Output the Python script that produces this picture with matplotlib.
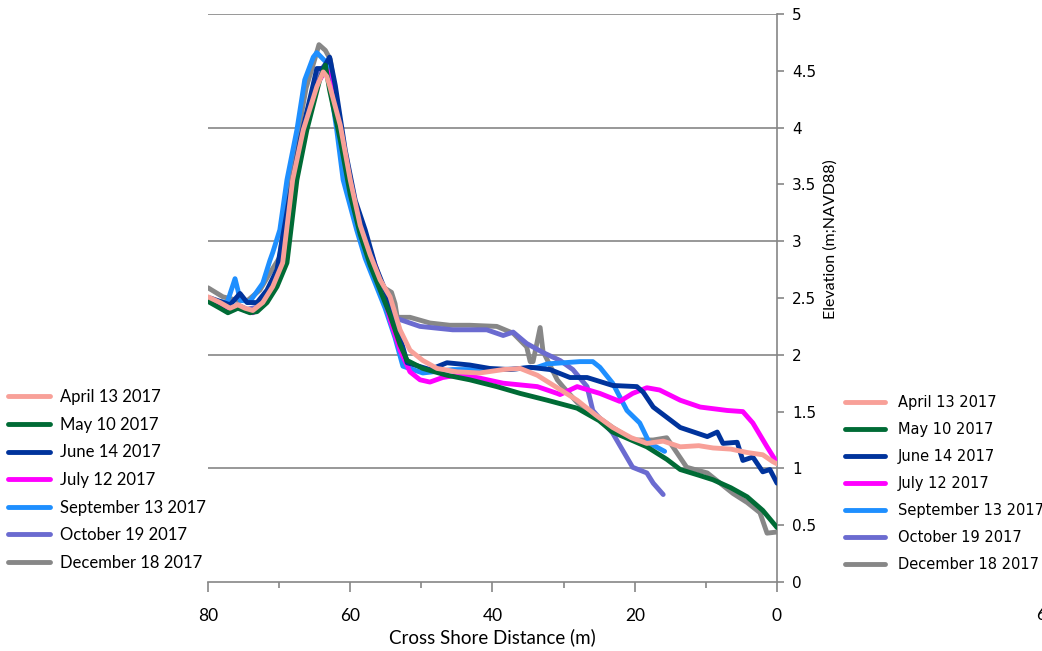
import matplotlib
matplotlib.use("Agg")
import matplotlib.pyplot as plt
from matplotlib.ticker import MultipleLocator, FuncFormatter

# survey dates and line colours
labels = ["April 13 2017", "May 10 2017", "June 14 2017", "July 12 2017",
          "September 13 2017", "October 19 2017", "December 18 2017"]
colors = ["#F8A098", "#006B35", "#00339C", "#FF00FF",
          "#1E8FFF", "#6B6BD0", "#878787"]

# cross shore distance (m) / elevation (m NAVD88) for each survey
apr_x = [80.0, 78.3, 76.9, 75.8, 74.8, 73.7, 72.3, 70.9, 69.5, 68.1, 66.6, 64.7, 63.8, 63.3, 62.9,
         61.4, 60.0, 58.6, 57.2, 55.8, 54.4, 53.0, 51.6, 49.8, 47.8, 45.0, 41.8, 38.5, 36.1, 33.7,
         30.9, 28.1, 25.5, 23.1, 20.5, 18.3, 16.0, 13.6, 11.0, 9.0, 6.5, 4.2, 2.0, 0.6, 0.0]
apr_y = [2.51, 2.46, 2.41, 2.44, 2.41, 2.39, 2.46, 2.60, 2.81, 3.54, 3.98, 4.36, 4.49, 4.45, 4.37,
         4.02, 3.54, 3.14, 2.88, 2.66, 2.51, 2.22, 2.04, 1.95, 1.88, 1.85, 1.84, 1.87, 1.88, 1.82,
         1.71, 1.60, 1.47, 1.36, 1.27, 1.22, 1.24, 1.19, 1.20, 1.18, 1.17, 1.14, 1.12, 1.06, 1.04]

may_x = [80.0, 78.3, 77.2, 75.8, 74.1, 73.1, 71.7, 70.3, 68.9, 67.5, 66.1, 64.3, 63.5, 62.9, 61.4,
         60.0, 58.6, 57.2, 55.8, 54.4, 53.0, 52.0, 49.8, 46.4, 43.2, 39.4, 36.1, 32.3, 28.1, 25.0,
         23.1, 20.5, 18.3, 15.5, 13.6, 11.0, 9.0, 6.5, 4.2, 2.0, 0.0]
may_y = [2.47, 2.41, 2.37, 2.41, 2.37, 2.38, 2.46, 2.60, 2.81, 3.54, 3.98, 4.42, 4.55, 4.33, 3.89,
         3.41, 3.06, 2.79, 2.57, 2.35, 2.09, 1.95, 1.88, 1.82, 1.78, 1.72, 1.66, 1.60, 1.53, 1.42,
         1.32, 1.25, 1.19, 1.08, 0.99, 0.94, 0.90, 0.83, 0.75, 0.63, 0.48]

jun_x = [79.7, 76.9, 75.5, 74.5, 73.1, 71.7, 70.3, 68.5, 67.0, 65.5, 64.7, 63.8, 62.9, 62.1, 60.7,
         59.3, 57.9, 56.5, 55.1, 53.7, 52.3, 52.0, 48.8, 46.4, 43.2, 40.4, 37.5, 34.7, 31.9, 29.1,
         26.7, 23.1, 19.7, 18.8, 17.4, 13.6, 9.8, 8.4, 7.6, 5.6, 4.8, 3.4, 2.0, 1.0, 0.0]
jun_y = [2.50, 2.44, 2.54, 2.46, 2.46, 2.57, 2.75, 3.40, 3.90, 4.30, 4.52, 4.52, 4.62, 4.37, 3.80,
         3.36, 3.10, 2.79, 2.57, 2.31, 2.00, 1.93, 1.87, 1.93, 1.91, 1.88, 1.87, 1.89, 1.87, 1.80,
         1.80, 1.73, 1.72, 1.67, 1.54, 1.36, 1.28, 1.32, 1.22, 1.23, 1.07, 1.10, 0.97, 0.99, 0.87]

jul_x = [80.0, 78.3, 76.9, 75.8, 74.8, 73.7, 72.3, 70.9, 69.5, 68.1, 66.6, 65.0, 63.4, 62.5, 61.4,
         60.0, 58.6, 57.2, 55.8, 54.4, 53.0, 51.6, 50.2, 48.8, 47.0, 45.0, 42.2, 38.5, 33.7, 30.9,
         30.5, 28.1, 24.9, 22.1, 20.3, 18.3, 16.5, 13.6, 10.8, 7.0, 4.8, 3.4, 1.4, 0.0]
jul_y = [2.48, 2.43, 2.39, 2.42, 2.39, 2.37, 2.44, 2.62, 2.85, 3.45, 3.95, 4.35, 4.51, 4.45, 3.98,
         3.50, 3.14, 2.92, 2.66, 2.31, 2.04, 1.85, 1.78, 1.76, 1.80, 1.82, 1.80, 1.75, 1.72, 1.66,
         1.65, 1.72, 1.66, 1.59, 1.66, 1.71, 1.69, 1.60, 1.54, 1.51, 1.50, 1.40, 1.19, 1.05]

sep_x = [79.7, 77.3, 76.2, 75.8, 75.5, 74.1, 72.3, 71.3, 70.9, 69.9, 68.9, 67.5, 66.4, 65.2, 64.7,
         63.3, 61.9, 61.0, 59.1, 57.9, 56.5, 55.1, 53.7, 52.6, 49.8, 45.6, 38.5, 33.7, 32.3, 27.7,
         25.9, 24.9, 23.1, 21.1, 19.3, 17.9, 15.8]
sep_y = [2.48, 2.46, 2.67, 2.57, 2.48, 2.47, 2.63, 2.83, 2.90, 3.10, 3.54, 3.98, 4.42, 4.62, 4.66,
         4.57, 3.98, 3.54, 3.10, 2.85, 2.63, 2.41, 2.15, 1.90, 1.84, 1.87, 1.87, 1.89, 1.92, 1.94,
         1.94, 1.89, 1.75, 1.51, 1.40, 1.22, 1.15]

oct_x = [80.0, 78.3, 76.9, 75.8, 74.5, 73.1, 71.7, 70.3, 69.0, 67.5, 66.0, 64.5, 63.6, 62.8, 61.7,
         60.5, 59.0, 57.5, 56.0, 54.5, 53.5, 53.0, 50.2, 45.6, 40.8, 38.5, 37.1, 35.2, 32.9, 30.5,
         28.7, 26.7, 25.9, 23.1, 20.3, 18.3, 17.4, 16.0]
oct_y = [2.50, 2.43, 2.40, 2.44, 2.40, 2.42, 2.52, 2.72, 3.05, 3.70, 4.15, 4.48, 4.55, 4.40, 3.95,
         3.50, 3.15, 2.92, 2.68, 2.50, 2.32, 2.31, 2.25, 2.22, 2.22, 2.17, 2.20, 2.10, 2.02, 1.95,
         1.87, 1.72, 1.51, 1.31, 1.01, 0.96, 0.87, 0.77]

dec_x = [80.0, 77.9, 75.9, 74.4, 72.7, 71.3, 69.9, 68.9, 67.5, 66.2, 65.0, 64.4, 63.5, 62.8, 62.0,
         61.0, 59.5, 58.0, 56.5, 55.5, 54.2, 53.7, 53.4, 51.6, 48.8, 46.0, 43.2, 39.4, 37.1, 35.2,
         34.7, 34.3, 33.3, 32.9, 30.9, 30.1, 28.1, 26.7, 23.1, 20.3, 17.4, 15.5, 12.7, 9.8, 8.0,
         6.2, 4.2, 2.4, 1.4, 0.0]
dec_y = [2.59, 2.51, 2.48, 2.48, 2.57, 2.72, 2.86, 3.40, 3.90, 4.35, 4.60, 4.73, 4.68, 4.60, 4.25,
         3.65, 3.25, 2.95, 2.75, 2.60, 2.55, 2.45, 2.33, 2.33, 2.28, 2.26, 2.26, 2.25, 2.19, 2.07,
         1.94, 1.94, 2.24, 2.03, 1.78, 1.72, 1.58, 1.52, 1.36, 1.25, 1.25, 1.27, 1.01, 0.96, 0.87,
         0.78, 0.70, 0.61, 0.43, 0.44]

series = [(apr_x, apr_y), (may_x, may_y), (jun_x, jun_y), (jul_x, jul_y),
          (sep_x, sep_y), (oct_x, oct_y), (dec_x, dec_y)]

fig = plt.figure(figsize=(10.42, 6.51), dpi=100)
ax = fig.add_axes([208 / 1042, 1 - 582 / 651, (777 - 208) / 1042, (582 - 14) / 651])

lines = []
for (xs, ys), lab, col in zip(series, labels, colors):
    ln, = ax.plot(xs, ys, color=col, lw=3.5, label=lab, solid_capstyle="round",
                  solid_joinstyle="round")
    lines.append(ln)
# first survey sits on top
for i, ln in enumerate(lines):
    ln.set_zorder(10 - i)

ax.set_xlim(80, 0)
ax.set_ylim(0, 5)
ax.xaxis.set_major_locator(MultipleLocator(20))
ax.xaxis.set_minor_locator(MultipleLocator(10))
ax.yaxis.set_major_locator(MultipleLocator(0.5))
ax.yaxis.set_major_formatter(FuncFormatter(lambda v, p: f"{v:g}"))
ax.yaxis.tick_right()

for yv in [1, 2, 3, 4, 5]:
    ax.axhline(yv, color="#868686", lw=1.2, zorder=1)

for s in ["top", "left"]:
    ax.spines[s].set_visible(False)
for s in ["bottom", "right"]:
    ax.spines[s].set_color("#868686")
    ax.spines[s].set_linewidth(1.2)

ax.tick_params(axis="x", which="major", length=7, width=1.2, color="#868686",
               labelsize=12.5, pad=12)
ax.tick_params(axis="x", which="minor", length=4, width=1.2, color="#868686")
ax.tick_params(axis="y", which="major", length=5, width=1.2, color="#868686",
               labelsize=11, pad=6, right=True, left=False)
for t in ax.get_xticklabels():
    t.set_family("Lato")
for t in ax.get_yticklabels():
    t.set_family("DejaVu Sans")

ax.set_xlabel("Cross Shore Distance (m)", family="Lato", fontsize=13.5, labelpad=3)
fig.text(831 / 1042, 1 - 239 / 651, "Elevation (m;NAVD88)", rotation=90,
         ha="center", va="center", family=["Liberation Sans Narrow", "Lato"], fontsize=11.5)
fig.text(1036 / 1042, 1 - 615 / 651, "60", ha="left", va="center",
         family="Lato", fontsize=12.5)

fig.legend(handles=lines, loc="upper left", bbox_to_anchor=(8 / 1042, 1 - 389 / 651),
           frameon=False, borderpad=0, borderaxespad=0, handlelength=2.5,
           handletextpad=0.6, labelspacing=0.7, prop={"family": "Lato", "size": 12})
fig.legend(handles=lines, loc="upper left", bbox_to_anchor=(845 / 1042, 1 - 395 / 651),
           frameon=False, borderpad=0, borderaxespad=0, handlelength=2.75,
           handletextpad=0.85, labelspacing=0.82,
           prop={"family": "DejaVu Sans", "size": 10.5})

fig.savefig("out.png", dpi=100)
